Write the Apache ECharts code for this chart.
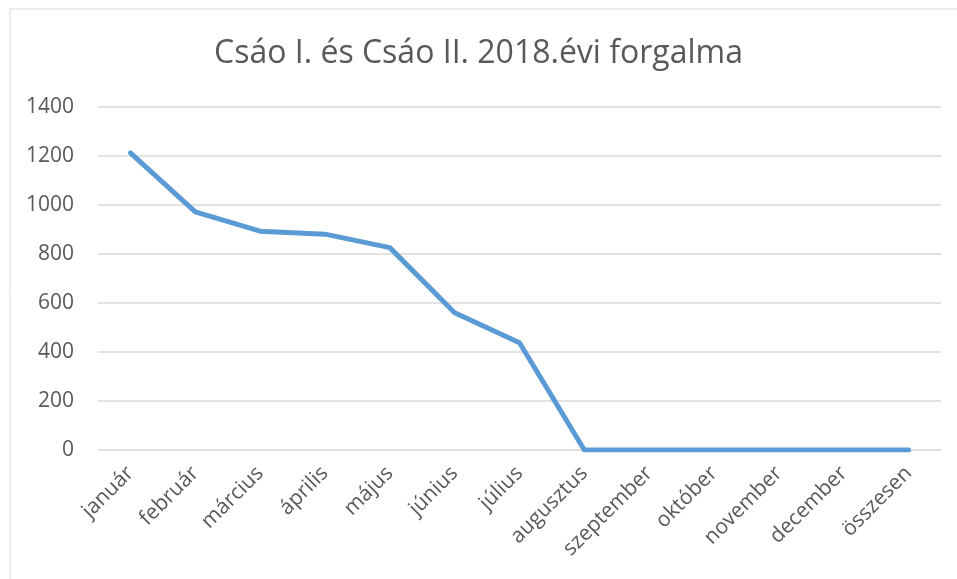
<!DOCTYPE html>
<html>
<head>
<meta charset="utf-8">
<script src="https://cdn.jsdelivr.net/npm/echarts@6/dist/echarts.min.js"></script>
<style>
  html, body { margin: 0; padding: 0; background: #fff; }
  #chart { width: 957px; height: 579px; }
</style>
</head>
<body>
<div id="chart"></div>
<script>
// Havi forgalom
const months = ['január', 'február', 'március', 'április', 'május', 'június', 'július',
    'augusztus', 'szeptember', 'október', 'november', 'december', 'összesen'];
const forgalom = [1213, 972, 893, 881, 826, 560, 438, 0, 0, 0, 0, 0, 0];
const yTicks = [0, 200, 400, 600, 800, 1000, 1200, 1400];

const chart = echarts.init(document.getElementById('chart'));

const option = {
    animation: false,
    textStyle: { fontFamily: 'Open Sans, Noto Sans, sans-serif' },
    title: {
        text: 'Csáo I. és Csáo II. 2018.évi forgalma',
        left: 'center',
        top: 33,
        textStyle: { fontSize: 32, fontWeight: 'normal', color: '#595959' }
    },
    graphic: [{
        type: 'rect',
        shape: { x: 10, y: 9, width: 1000, height: 700 },
        style: { fill: 'none', stroke: '#d9d9d9', lineWidth: 1 },
        silent: true
    }],
    grid: { left: 98, right: 16, top: 107, bottom: 129, containLabel: false },
    xAxis: {
        type: 'category',
        data: months,
        boundaryGap: true,
        axisLine: { show: false },
        axisTick: { show: false },
        axisLabel: { rotate: 45, margin: 20, fontSize: 21, color: '#595959', interval: 0,
            padding: [0, 0, 0, 0] }
    },
    yAxis: {
        type: 'value',
        min: yTicks[0],
        max: yTicks[yTicks.length - 1],
        interval: 200,
        axisLine: { show: false },
        axisTick: { show: false },
        axisLabel: { fontSize: 21, color: '#595959', margin: 24, formatter: v => String(v) },
        splitLine: { lineStyle: { color: '#d9d9d9', width: 1.5 } }
    },
    series: [{
        type: 'line',
        data: forgalom,
        symbol: 'none',
        lineStyle: { color: '#5b9bd5', width: 5, cap: 'round', join: 'round' }
    }]
};

chart.setOption(option);
</script>
</body>
</html>
